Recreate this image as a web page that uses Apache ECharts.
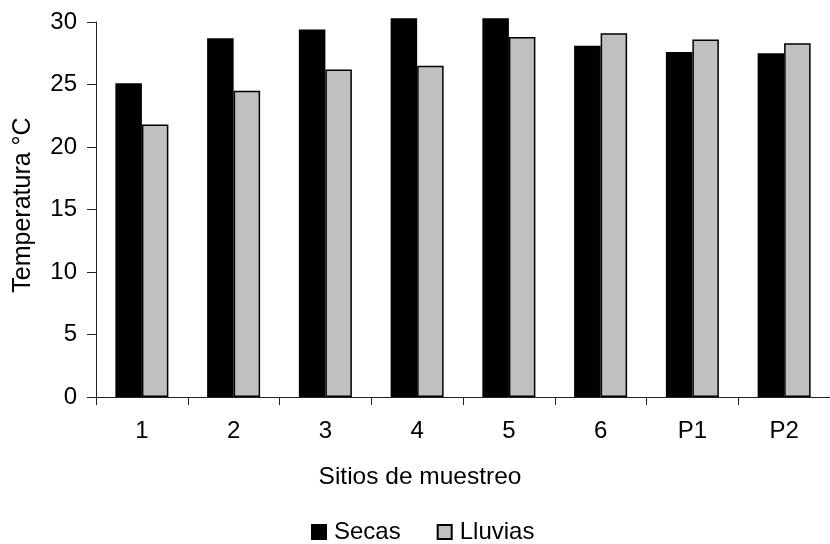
<!DOCTYPE html>
<html>
<head>
<meta charset="utf-8">
<script src="https://cdn.jsdelivr.net/npm/echarts@6/dist/echarts.min.js"></script>
<style>html,body{margin:0;padding:0;background:#fff}#c{width:830px;height:544px}</style>
</head>
<body>
<div id="c"></div>
<script>
var categories = ['1', '2', '3', '4', '5', '6', 'P1', 'P2'];
var secas = [25.1, 28.7, 29.4, 30.3, 30.3, 28.1, 27.6, 27.5];
var lluvias = [21.8, 24.5, 26.2, 26.5, 28.8, 29.1, 28.6, 28.3];
var yTicks = [0, 5, 10, 15, 20, 25, 30];
var xName = 'Sitios de muestreo';
var yName = 'Temperatura °C';

var FONT = '"Liberation Sans", Arial, sans-serif';
var chart = echarts.init(document.getElementById('c'), null, {renderer: 'canvas'});
chart.setOption({
  animation: false,
  backgroundColor: '#fff',
  textStyle: {fontFamily: FONT},
  grid: {left: 96, right: -4, top: 22, bottom: 147, containLabel: false},
  legend: {
    left: 311, top: 519, padding: 0,
    itemWidth: 14, itemHeight: 14, itemGap: 36,
    icon: 'rect',
    textStyle: {fontFamily: FONT, fontSize: 24, lineHeight: 26, color: '#000', padding: [0, 0, 0, 3]},
    data: ['Secas', 'Lluvias']
  },
  xAxis: {
    type: 'category',
    data: categories,
    axisLine: {show: true, lineStyle: {color: '#222', width: 1}},
    axisTick: {show: true, length: 8, lineStyle: {color: '#222'}},
    axisLabel: {fontFamily: FONT, fontSize: 24, color: '#000', margin: 22},
    splitLine: {show: false}
  },
  yAxis: {
    type: 'value',
    min: yTicks[0], max: yTicks[yTicks.length - 1], interval: 5,
    axisLine: {show: true, lineStyle: {color: '#222', width: 1}},
    axisTick: {show: true, length: 9, lineStyle: {color: '#222'}},
    axisLabel: {fontFamily: FONT, fontSize: 24, color: '#000', margin: 19},
    splitLine: {show: false}
  },
  graphic: [
    {type: 'text', x: 420, y: 477, style: {text: xName, font: '24.5px ' + FONT, fill: '#000', textAlign: 'center', textVerticalAlign: 'middle'}},
    {type: 'text', x: 23, y: 205, rotation: Math.PI / 2, style: {text: yName, font: '25px ' + FONT, fill: '#000', textAlign: 'center', textVerticalAlign: 'middle'}}
  ],
  series: [
    {name: 'Secas', type: 'bar', data: secas, barWidth: 26.5, barGap: '0%', clip: false,
     itemStyle: {color: '#000', borderColor: '#000', borderWidth: 1.5}},
    {name: 'Lluvias', type: 'bar', data: lluvias, barWidth: 26.5, barGap: '0%', clip: false,
     itemStyle: {color: '#c0c0c0', borderColor: '#000', borderWidth: 1.5}}
  ]
});
</script>
</body>
</html>
